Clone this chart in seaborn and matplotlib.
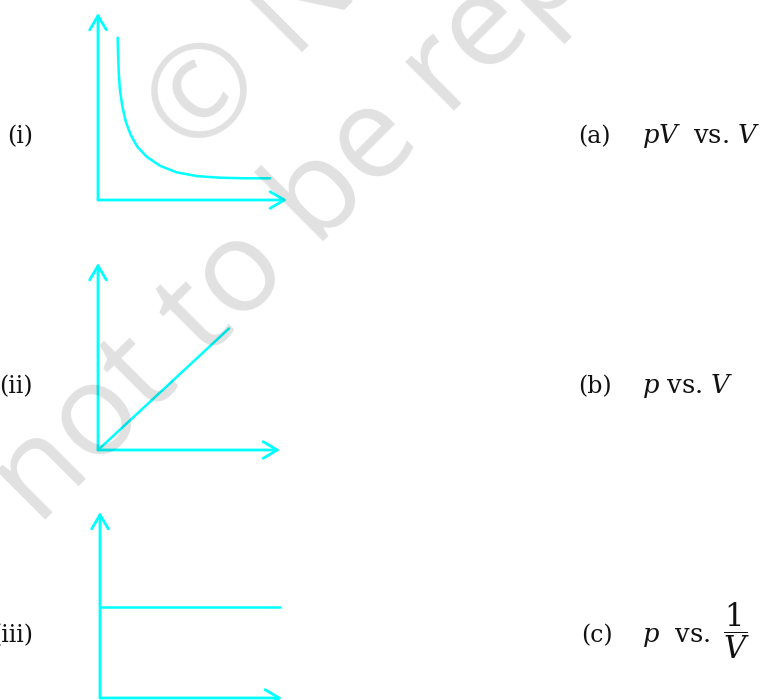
import matplotlib
matplotlib.use("Agg")
import matplotlib.pyplot as plt
import seaborn as sns
import pandas as pd

sns.set_theme(style="white")
plt.rcParams['font.family'] = ['DejaVu Serif', 'DejaVu Sans']
plt.rcParams['mathtext.fontset'] = 'dejavuserif'

# ---- data (arbitrary units 0..10 on each axis) ----
V_i = [1.04, 1.06, 1.10, 1.16, 1.29, 1.47, 1.73, 2.08, 2.58, 3.28, 4.16, 5.22, 6.46, 7.87, 9.10]
p_i = [8.68, 7.84, 6.77, 5.88, 4.99, 4.19, 3.48, 2.85, 2.31, 1.83, 1.48, 1.28, 1.19, 1.16, 1.16]
V_ii = [0.0, 7.2]
p_ii = [0.0, 6.5]
V_iii = [0.0, 9.9]
p_iii = [4.9, 4.9]

left_labels = ["(i)", "(ii)", "(iii)"]
right_letters = ["(a)", "(b)", "(c)"]
right_texts = [r"$pV$  vs. $V$", r"$p$ vs. $V$", r"$p$  vs."]
fraction_text = r"$\dfrac{1}{V}$"

CYAN = "#00FFFF"
INK = "#111111"
W, H = 765, 700

fig = plt.figure(figsize=(W / 100, H / 100), dpi=100)
fig.patch.set_facecolor("white")


def px_rect(x0, y_bottom, x1, y_top):
    return [x0 / W, 1 - y_bottom / H, (x1 - x0) / W, (y_bottom - y_top) / H]


rects = [px_rect(98, 200, 287, 13), px_rect(98, 450, 280, 263), px_rect(100, 698, 282, 512)]
series = [(V_i, p_i), (V_ii, p_ii), (V_iii, p_iii)]

for rect, (vx, py) in zip(rects, series):
    ax = fig.add_axes(rect)
    ax.set_facecolor("none")
    df = pd.DataFrame({"V": vx, "p": py})
    sns.lineplot(data=df, x="V", y="p", ax=ax, color=CYAN, lw=1.8, sort=False, clip_on=False)
    ax.set_xlim(0, 10)
    ax.set_ylim(0, 10)
    ax.set_axis_off()
    arrow = dict(arrowstyle="->,head_length=0.85,head_width=0.5", lw=2.0, color=CYAN,
                 shrinkA=0, shrinkB=0)
    ax.annotate("", xy=(1, 0), xytext=(0, 0), xycoords="axes fraction",
                textcoords="axes fraction", arrowprops=arrow, annotation_clip=False)
    ax.annotate("", xy=(0, 1), xytext=(0, 0), xycoords="axes fraction",
                textcoords="axes fraction", arrowprops=arrow, annotation_clip=False)

baselines = [143, 393, 642]
for lab, y in zip(left_labels, baselines):
    fig.text(33 / W, 1 - y / H, lab, ha="right", va="baseline", fontsize=17, color=INK)
for lab, txt, y, lx in zip(right_letters, right_texts, baselines, [578, 578, 581]):
    fig.text(lx / W, 1 - y / H, lab, ha="left", va="baseline", fontsize=17, color=INK)
    fig.text(642 / W, 1 - y / H, txt, ha="left", va="baseline", fontsize=18.5, color=INK)
fig.text(723 / W, 1 - 631 / H, fraction_text, ha="left", va="center", fontsize=22, color=INK)

# watermark
wm = dict(rotation=45, rotation_mode="anchor", ha="left", va="baseline", fontsize=93,
          fontweight="normal", family="Open Sans", color="black", alpha=0.12, zorder=10)
fig.text(194 / W, 1 - 160 / H, "\u00a9 NCERT", **wm)
fig.text(38 / W, 1 - 527 / H, "not to be republished", **wm)

fig.savefig("out.png", dpi=100, facecolor="white")
